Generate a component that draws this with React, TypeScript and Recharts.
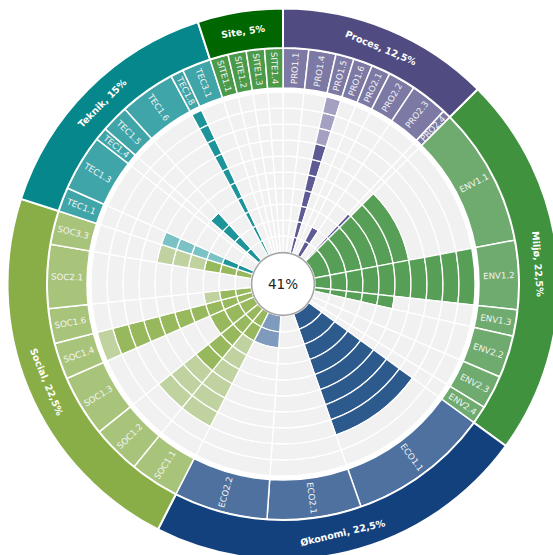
import React from 'react';
import { PieChart, Pie, Cell } from 'recharts';

// ---------- data ----------
const categoryLabels = ['Proces, 12,5%', 'Miljø, 22,5%', 'Økonomi, 22,5%', 'Social, 22,5%', 'Teknik, 15%', 'Site, 5%'];
const categoryWeights = [12.5, 22.5, 22.5, 22.5, 15, 5];

const criteria = [
  'PRO1.1', 'PRO1.4', 'PRO1.5', 'PRO1.6', 'PRO2.1', 'PRO2.2', 'PRO2.3', 'PRO2.4',
  'ENV1.1', 'ENV1.2', 'ENV1.3', 'ENV2.2', 'ENV2.3', 'ENV2.4',
  'ECO1.1', 'ECO2.1', 'ECO2.2',
  'SOC1.1', 'SOC1.2', 'SOC1.3', 'SOC1.4', 'SOC1.6', 'SOC2.1', 'SOC3.3',
  'TEC1.1', 'TEC1.3', 'TEC1.4', 'TEC1.5', 'TEC1.6', 'TEC1.8', 'TEC3.1',
  'SITE1.1', 'SITE1.2', 'SITE1.3', 'SITE1.4',
];
const criteriaCategory = [
  0, 0, 0, 0, 0, 0, 0, 0,
  1, 1, 1, 1, 1, 1,
  2, 2, 2,
  3, 3, 3, 3, 3, 3, 3,
  4, 4, 4, 4, 4, 4, 4,
  5, 5, 5, 5,
];
const criteriaWeights = [
  6.3, 6.7, 4.5, 4.7, 4.7, 6.8, 9.2, 2.1,
  34.3, 17.0, 6.5, 10.4, 8.3, 4.5,
  34.7, 23.2, 23.1,
  12.2, 12.0, 15.2, 9.0, 8.6, 15.7, 8.3,
  6.0, 13.9, 3.2, 6.8, 13.8, 3.2, 7.1,
  4.5, 4.5, 4.5, 4.5,
];
const achievedLevels = [
  0, 0, 7, 0, 0, 2, 0, 4,
  6, 10, 5, 0, 0, 0,
  8, 0, 0,
  2, 5, 3, 9, 2, 0, 3,
  2, 0, 0, 4, 0, 10, 0,
  0, 0, 0, 0,
];
const potentialLevels = [
  0, 0, 3, 0, 0, 0, 0, 0,
  0, 0, 0, 0, 0, 0,
  0, 0, 2,
  6, 3, 0, 1, 1, 0, 3,
  4, 0, 0, 0, 0, 0, 0,
  0, 0, 0, 0,
];
const levels = [1, 2, 3, 4, 5, 6, 7, 8, 9, 10];
const totalScore = '41%';

// ---------- styles ----------
const categoryColors = ['#504c81', '#40923f', '#13417d', '#8aae47', '#06878b', '#006600'];
const criteriaColors = ['#7d79a5', '#6fab6f', '#4e719f', '#a8c47b', '#3fa5a8', '#4a9a4a'];
const barDark = ['#5e5a94', '#579f57', '#2d5a8d', '#97b85c', '#1c9499', '#3a913a'];
const barLight = ['#a4a0c2', '#a7cfa7', '#7e9bbd', '#bfd29f', '#7bc2c6', '#9cc79c'];
const GRID = '#f1f1f1';

const W = 553;
const H = 555;
const CX = 283;
const CY = 284;
const R0 = 32;
const RING = 16;
const CRIT_IN = 196;
const CRIT_OUT = 236;
const CAT_IN = 236;
const CAT_OUT = 275.5;
const FONT = '"DejaVu Sans", Verdana, sans-serif';

const critData = criteria.map((name, i) => ({ name, value: criteriaWeights[i] }));
const catData = categoryLabels.map((name, i) => ({ name, value: categoryWeights[i] }));

const RAD = Math.PI / 180;

function critLabel(props: any) {
  const { midAngle, index } = props;
  const r = (CRIT_IN + CRIT_OUT) / 2;
  const x = CX + r * Math.cos(midAngle * RAD);
  const y = CY - r * Math.sin(midAngle * RAD);
  let theta = 90 - midAngle;
  theta = ((theta % 360) + 360) % 360;
  const rot = theta < 180 ? theta - 90 : theta - 270;
  return (
    <text
      key={'cl' + index}
      x={x}
      y={y}
      fill="#f4f4f4"
      fontSize={8.6}
      fontFamily={FONT}
      textAnchor="middle"
      dominantBaseline="central"
      transform={`rotate(${rot} ${x} ${y})`}
    >
      {criteria[index]}
    </text>
  );
}

function catLabel(props: any) {
  const { midAngle, index } = props;
  const r = (CAT_IN + CAT_OUT) / 2;
  const x = CX + r * Math.cos(midAngle * RAD);
  const y = CY - r * Math.sin(midAngle * RAD);
  let theta = 90 - midAngle;
  theta = ((theta % 360) + 360) % 360;
  let rot = theta;
  if (theta > 90 && theta < 270) rot = theta - 180;
  else if (theta >= 270) rot = theta - 360;
  return (
    <text
      key={'kl' + index}
      x={x}
      y={y}
      fill="#ffffff"
      fontSize={9.5}
      fontWeight="bold"
      fontFamily={FONT}
      textAnchor="middle"
      dominantBaseline="central"
      transform={`rotate(${rot} ${x} ${y})`}
    >
      {categoryLabels[index]}
    </text>
  );
}

function centerLabel() {
  return (
    <text
      key="center"
      x={CX}
      y={CY}
      fill="#222222"
      fontSize={13.5}
      fontFamily={FONT}
      textAnchor="middle"
      dominantBaseline="central"
    >
      {totalScore}
    </text>
  );
}

function cellFill(i: number, k: number) {
  const c = criteriaCategory[i];
  if (k < achievedLevels[i]) return barDark[c];
  if (k < achievedLevels[i] + potentialLevels[i]) return barLight[c];
  return GRID;
}

export default function App() {
  return (
    <div style={{ position: 'absolute', left: 0, top: 0, width: W, height: H, background: '#fff' }}>
      <PieChart width={W} height={H} margin={{ top: 0, right: 0, bottom: 0, left: 0 }}>
        {levels.map((lv, k) => (
          <Pie
            key={'ring' + lv}
            data={critData}
            dataKey="value"
            cx={CX}
            cy={CY}
            innerRadius={R0 + k * RING}
            outerRadius={R0 + (k + 1) * RING}
            startAngle={90}
            endAngle={-270}
            stroke="#ffffff"
            strokeWidth={1.3}
            isAnimationActive={false}
          >
            {critData.map((d, i) => (
              <Cell key={d.name} fill={cellFill(i, k)} />
            ))}
          </Pie>
        ))}
        <Pie
          data={critData}
          dataKey="value"
          cx={CX}
          cy={CY}
          innerRadius={CRIT_IN}
          outerRadius={CRIT_OUT}
          startAngle={90}
          endAngle={-270}
          stroke="#ffffff"
          strokeWidth={1.5}
          label={critLabel}
          labelLine={false}
          isAnimationActive={false}
        >
          {critData.map((d, i) => (
            <Cell key={d.name} fill={criteriaColors[criteriaCategory[i]]} />
          ))}
        </Pie>
        <Pie
          data={catData}
          dataKey="value"
          cx={CX}
          cy={CY}
          innerRadius={CAT_IN}
          outerRadius={CAT_OUT}
          startAngle={90}
          endAngle={-270}
          stroke="#ffffff"
          strokeWidth={2}
          label={catLabel}
          labelLine={false}
          isAnimationActive={false}
        >
          {catData.map((d, i) => (
            <Cell key={d.name} fill={categoryColors[i]} />
          ))}
        </Pie>
        <Pie
          data={[{ name: 'total', value: 1 }]}
          dataKey="value"
          cx={CX}
          cy={CY}
          innerRadius={0}
          outerRadius={R0}
          startAngle={90}
          endAngle={-270}
          fill="#ffffff"
          stroke="none"
          label={centerLabel}
          labelLine={false}
          isAnimationActive={false}
        />
        <Pie
          data={[{ name: 'border', value: 1 }]}
          dataKey="value"
          cx={CX}
          cy={CY}
          innerRadius={R0 - 1.4}
          outerRadius={R0 + 0.2}
          startAngle={90}
          endAngle={-270}
          fill="#a6a6a6"
          stroke="none"
          isAnimationActive={false}
        />
      </PieChart>
    </div>
  );
}
